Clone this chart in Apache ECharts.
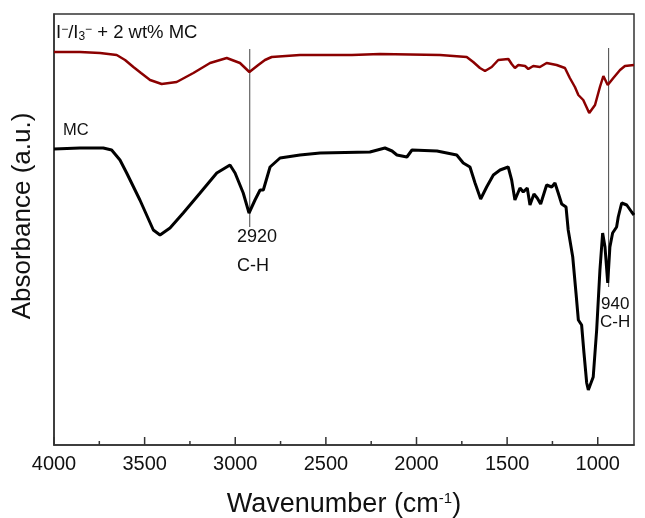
<!DOCTYPE html>
<html>
<head>
<meta charset="utf-8">
<script src="https://cdn.jsdelivr.net/npm/echarts@6/dist/echarts.min.js"></script>
<style>
  html, body { margin: 0; padding: 0; background: #fff; }
  #chart { width: 645px; height: 518px; }
</style>
</head>
<body>
<div id="chart"></div>
<script>
// FTIR spectra (wavenumber in cm-1, absorbance in arbitrary units)
const mcWavenumber = [4000, 3857, 3728, 3682, 3636, 3599, 3526, 3452, 3415, 3360, 3287, 3194, 3102, 3029, 3001, 2956, 2924, 2891, 2863, 2845, 2808, 2753, 2643, 2532, 2257, 2174, 2135, 2108, 2053, 2025, 1887, 1778, 1742, 1705, 1677, 1646, 1613, 1576, 1539, 1494, 1475, 1457, 1429, 1411, 1389, 1374, 1352, 1334, 1315, 1282, 1254, 1236, 1218, 1199, 1175, 1163, 1138, 1120, 1107, 1089, 1076, 1061, 1052, 1025, 1006, 988, 973, 960, 945, 933, 918, 896, 887, 868, 840, 813, 800];
const mcAbsorbance = [296, 297, 297, 295, 285, 272, 245, 215, 210, 217, 232, 252, 272, 280, 272, 252, 232, 245, 255, 255, 278, 287, 290, 292, 293, 297, 294, 290, 288, 295, 294, 290, 282, 278, 262, 246, 258, 270, 275, 278, 265, 245, 257, 253, 257, 240, 251, 247, 241, 260, 258, 262, 252, 241, 238, 215, 188, 152, 125, 120, 92, 62, 55, 68, 115, 175, 212, 198, 162, 198, 212, 218, 228, 242, 240, 233, 230];

const blendWavenumber = [4000, 3857, 3746, 3654, 3608, 3562, 3520, 3470, 3406, 3323, 3231, 3139, 3047, 2974, 2922, 2873, 2836, 2799, 2643, 2356, 2201, 1870, 1723, 1687, 1650, 1622, 1585, 1549, 1493, 1475, 1457, 1438, 1401, 1383, 1356, 1319, 1282, 1227, 1181, 1154, 1126, 1107, 1080, 1047, 1015, 988, 969, 945, 914, 877, 850, 800];
const blendAbsorbance = [393, 393, 392, 390, 385, 378, 372, 365, 361, 363, 372, 382, 387, 382, 373, 380, 385, 388, 390, 390, 391, 390, 388, 383, 377, 374, 378, 385, 386, 381, 377, 380, 379, 376, 379, 378, 382, 380, 377, 367, 358, 350, 345, 332, 340, 358, 369, 360, 367, 375, 379, 380];

// marker lines for the C-H bands
const peakWavenumber = [2920, 940];
const peakTop = [396, 397];
const peakBottom = [218, 158];

const majorTicks = [4000, 3500, 3000, 2500, 2000, 1500, 1000];
const minorTicks = [3750, 3250, 2750, 2250, 1750, 1250];

const zip = (xs, ys) => xs.map((x, i) => [x, ys[i]]);

const chart = echarts.init(document.getElementById("chart"));
const font = "Liberation Sans, Arial, sans-serif";

const markerSeries = peakWavenumber.map((wn, i) => ({
    type: "line",
    data: [[wn, peakTop[i]], [wn, peakBottom[i]]],
    symbol: "none",
    silent: true,
    lineStyle: { color: "#444", width: 1 },
    z: 1
}));

// inside tick marks on the bottom axis, drawn through the x scale
const tickSeries = (values, len) => ({
    type: "custom",
    silent: true,
    clip: false,
    data: values.map(v => [v, 0]),
    renderItem: (params, api) => {
        const p = api.coord([api.value(0), 0]);
        return {
            type: "line",
            shape: { x1: p[0], y1: p[1], x2: p[0], y2: p[1] - len },
            style: { stroke: "#333", lineWidth: 1.5 }
        };
    },
    z: 5
});

chart.setOption({
    animation: false,
    grid: {
        left: 54, right: 11, top: 14, bottom: 73,
        outerBoundsMode: "none",
        show: true,
        borderColor: "#333",
        borderWidth: 1.5
    },
    xAxis: {
        type: "value",
        inverse: true,
        min: 800,
        max: 4000,
        axisLine: { lineStyle: { color: "#333", width: 1.5 } },
        axisTick: { show: false },
        axisLabel: {
            customValues: majorTicks, margin: 9, color: "#111", fontSize: 20, fontFamily: font,
            formatter: v => String(v)
        },
        splitLine: { show: false },
        name: "Wavenumber (cm{sup|-1})",
        nameLocation: "middle",
        nameGap: 46,
        nameTextStyle: {
            color: "#111", fontSize: 27, fontFamily: font,
            rich: { sup: { fontSize: 15, verticalAlign: "top", fontFamily: font, color: "#111" } }
        }
    },
    yAxis: {
        type: "value",
        min: 0,
        max: 431,
        axisLine: { show: true, lineStyle: { color: "#333", width: 1.5 } },
        axisTick: { show: false },
        axisLabel: { show: false },
        splitLine: { show: false }
    },
    series: [
        ...markerSeries,
        tickSeries(majorTicks, 8),
        tickSeries(minorTicks, 4),
        {
            name: "I-/I3- + 2 wt% MC",
            type: "line",
            data: zip(blendWavenumber, blendAbsorbance),
            symbol: "none",
            lineStyle: { color: "#8B0000", width: 2.5 },
            z: 3
        },
        {
            name: "MC",
            type: "line",
            data: zip(mcWavenumber, mcAbsorbance),
            symbol: "none",
            lineStyle: { color: "#000", width: 3 },
            z: 3
        }
    ],
    graphic: [
        {
            type: "text", x: 23, y: 216, rotation: Math.PI / 2,
            style: { text: "Absorbance (a.u.)", fill: "#111", font: "26px " + font, align: "center", verticalAlign: "middle" }
        },
        {
            type: "text", x: 56, y: 33,
            style: {
                text: "I{sup|−}/I{sub|3}{sup|−} + 2 wt% MC",
                fill: "#111", font: "18.5px " + font, verticalAlign: "middle",
                rich: {
                    sup: { fontSize: 12, verticalAlign: "top", fontFamily: font, fill: "#111" },
                    sub: { fontSize: 12, verticalAlign: "bottom", fontFamily: font, fill: "#111" }
                }
            }
        },
        { type: "text", x: 63, y: 130, style: { text: "MC", fill: "#111", font: "16.5px " + font, verticalAlign: "middle" } },
        { type: "text", x: 237, y: 237, style: { text: "2920", fill: "#111", font: "18px " + font, verticalAlign: "middle" } },
        { type: "text", x: 237, y: 266, style: { text: "C-H", fill: "#111", font: "18px " + font, verticalAlign: "middle" } },
        { type: "text", x: 601, y: 304, style: { text: "940", fill: "#111", font: "17px " + font, verticalAlign: "middle" } },
        { type: "text", x: 600, y: 322, style: { text: "C-H", fill: "#111", font: "17px " + font, verticalAlign: "middle" } }
    ]
});

window.addEventListener("resize", () => chart.resize());
</script>
</body>
</html>
